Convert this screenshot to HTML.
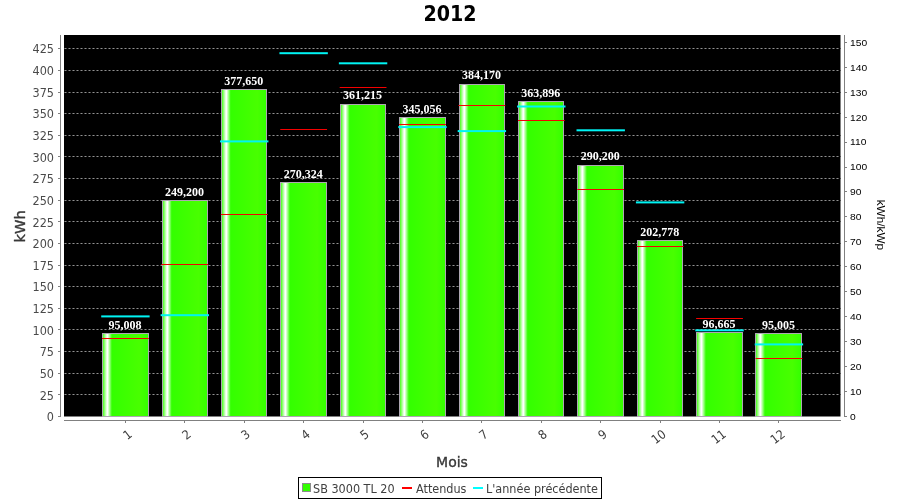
<!DOCTYPE html>
<html lang="fr">
<head>
<meta charset="utf-8">
<title>2012</title>
<style>
html,body{margin:0;padding:0;background:#fff;}
body{width:900px;height:500px;position:relative;overflow:hidden;font-family:"Liberation Sans",sans-serif;}
#chart{position:absolute;left:0;top:0;width:900px;height:500px;}
.t{position:absolute;white-space:nowrap;line-height:1;}
.title{left:350px;width:200px;text-align:center;top:1.5px;transform:scale(0.94,1.07);font:bold 20.3px "DejaVu Sans","Liberation Sans",sans-serif;color:#000;}
.yl{font:12.5px/1 "DejaVu Sans Condensed","DejaVu Sans","Liberation Sans",sans-serif;color:#4a4a4a;text-align:right;width:50px;left:4px;}
.yr{font-size:9.6px;color:#000;left:850.3px;transform-origin:0 50%;transform:scaleX(1.07);}
.xl{font:12.5px/1 "DejaVu Sans Condensed","DejaVu Sans","Liberation Sans",sans-serif;color:#404040;transform-origin:100% 0;transform:rotate(-37deg);text-align:right;width:40px;}
.vl{font:bold 12px "Liberation Serif",serif;color:#fff;width:80px;text-align:center;}
.ax{font:14px/1 "DejaVu Sans","Liberation Sans",sans-serif;color:#383838;-webkit-text-stroke:0.35px #383838;}
.lg{font:12.5px/1 "DejaVu Sans Condensed","DejaVu Sans","Liberation Sans",sans-serif;color:#404040;top:483px;}
</style>
</head>
<body>

<svg id="chart" width="900" height="500" viewBox="0 0 900 500">
<defs><linearGradient id="g" x1="0" y1="0" x2="1" y2="0"><stop offset="0" stop-color="#33ff00"/><stop offset="0.1" stop-color="#ffffff"/><stop offset="0.112" stop-color="#ffffff"/><stop offset="0.205" stop-color="#33ff00"/><stop offset="0.8" stop-color="#48ff00"/><stop offset="1" stop-color="#33ff00"/></linearGradient></defs>
<rect x="64" y="35" width="776.5" height="381.5" fill="#000"/>
<g stroke-width="1" shape-rendering="crispEdges">
<line x1="64" y1="394.5" x2="840.5" y2="394.5" stroke="#4c4c4c" stroke-dasharray="3 1"/>
<line x1="65" y1="394.5" x2="840.5" y2="394.5" stroke="#929292" stroke-dasharray="1 3"/>
<line x1="64" y1="373.5" x2="840.5" y2="373.5" stroke="#4c4c4c" stroke-dasharray="3 1"/>
<line x1="65" y1="373.5" x2="840.5" y2="373.5" stroke="#929292" stroke-dasharray="1 3"/>
<line x1="64" y1="351.5" x2="840.5" y2="351.5" stroke="#4c4c4c" stroke-dasharray="3 1"/>
<line x1="65" y1="351.5" x2="840.5" y2="351.5" stroke="#929292" stroke-dasharray="1 3"/>
<line x1="64" y1="329.5" x2="840.5" y2="329.5" stroke="#4c4c4c" stroke-dasharray="3 1"/>
<line x1="65" y1="329.5" x2="840.5" y2="329.5" stroke="#929292" stroke-dasharray="1 3"/>
<line x1="64" y1="308.5" x2="840.5" y2="308.5" stroke="#4c4c4c" stroke-dasharray="3 1"/>
<line x1="65" y1="308.5" x2="840.5" y2="308.5" stroke="#929292" stroke-dasharray="1 3"/>
<line x1="64" y1="286.5" x2="840.5" y2="286.5" stroke="#4c4c4c" stroke-dasharray="3 1"/>
<line x1="65" y1="286.5" x2="840.5" y2="286.5" stroke="#929292" stroke-dasharray="1 3"/>
<line x1="64" y1="265.5" x2="840.5" y2="265.5" stroke="#4c4c4c" stroke-dasharray="3 1"/>
<line x1="65" y1="265.5" x2="840.5" y2="265.5" stroke="#929292" stroke-dasharray="1 3"/>
<line x1="64" y1="243.5" x2="840.5" y2="243.5" stroke="#4c4c4c" stroke-dasharray="3 1"/>
<line x1="65" y1="243.5" x2="840.5" y2="243.5" stroke="#929292" stroke-dasharray="1 3"/>
<line x1="64" y1="221.5" x2="840.5" y2="221.5" stroke="#4c4c4c" stroke-dasharray="3 1"/>
<line x1="65" y1="221.5" x2="840.5" y2="221.5" stroke="#929292" stroke-dasharray="1 3"/>
<line x1="64" y1="200.5" x2="840.5" y2="200.5" stroke="#4c4c4c" stroke-dasharray="3 1"/>
<line x1="65" y1="200.5" x2="840.5" y2="200.5" stroke="#929292" stroke-dasharray="1 3"/>
<line x1="64" y1="178.5" x2="840.5" y2="178.5" stroke="#4c4c4c" stroke-dasharray="3 1"/>
<line x1="65" y1="178.5" x2="840.5" y2="178.5" stroke="#929292" stroke-dasharray="1 3"/>
<line x1="64" y1="156.5" x2="840.5" y2="156.5" stroke="#4c4c4c" stroke-dasharray="3 1"/>
<line x1="65" y1="156.5" x2="840.5" y2="156.5" stroke="#929292" stroke-dasharray="1 3"/>
<line x1="64" y1="135.5" x2="840.5" y2="135.5" stroke="#4c4c4c" stroke-dasharray="3 1"/>
<line x1="65" y1="135.5" x2="840.5" y2="135.5" stroke="#929292" stroke-dasharray="1 3"/>
<line x1="64" y1="113.5" x2="840.5" y2="113.5" stroke="#4c4c4c" stroke-dasharray="3 1"/>
<line x1="65" y1="113.5" x2="840.5" y2="113.5" stroke="#929292" stroke-dasharray="1 3"/>
<line x1="64" y1="92.5" x2="840.5" y2="92.5" stroke="#4c4c4c" stroke-dasharray="3 1"/>
<line x1="65" y1="92.5" x2="840.5" y2="92.5" stroke="#929292" stroke-dasharray="1 3"/>
<line x1="64" y1="70.5" x2="840.5" y2="70.5" stroke="#4c4c4c" stroke-dasharray="3 1"/>
<line x1="65" y1="70.5" x2="840.5" y2="70.5" stroke="#929292" stroke-dasharray="1 3"/>
<line x1="64" y1="48.5" x2="840.5" y2="48.5" stroke="#4c4c4c" stroke-dasharray="3 1"/>
<line x1="65" y1="48.5" x2="840.5" y2="48.5" stroke="#929292" stroke-dasharray="1 3"/>
</g>
<g stroke="#aea6b2" stroke-width="1">
<rect x="102.5" y="333.5" width="46" height="83.0" fill="url(#g)"/>
<rect x="162.5" y="200.5" width="45" height="216.0" fill="url(#g)"/>
<rect x="221.5" y="89.5" width="45" height="327.0" fill="url(#g)"/>
<rect x="280.5" y="182.5" width="46" height="234.0" fill="url(#g)"/>
<rect x="340.5" y="104.5" width="45" height="312.0" fill="url(#g)"/>
<rect x="399.5" y="117.5" width="46" height="299.0" fill="url(#g)"/>
<rect x="459.5" y="84.5" width="45" height="332.0" fill="url(#g)"/>
<rect x="518.5" y="101.5" width="45" height="315.0" fill="url(#g)"/>
<rect x="577.5" y="165.5" width="46" height="251.0" fill="url(#g)"/>
<rect x="637.5" y="240.5" width="45" height="176.0" fill="url(#g)"/>
<rect x="696.5" y="332.5" width="46" height="84.0" fill="url(#g)"/>
<rect x="755.5" y="333.5" width="46" height="83.0" fill="url(#g)"/>
</g>
<g>
<rect x="102.02" y="338" width="46.80" height="1" fill="#f40000"/>
<rect x="101.22" y="315.4" width="48.40" height="2" fill="#00f4f4"/>
<rect x="161.43" y="264" width="46.80" height="1" fill="#f40000"/>
<rect x="160.63" y="314.2" width="48.40" height="2" fill="#00f4f4"/>
<rect x="220.84" y="214" width="46.80" height="1" fill="#f40000"/>
<rect x="220.04" y="140.4" width="48.40" height="2" fill="#00f4f4"/>
<rect x="280.25" y="129" width="46.80" height="1" fill="#f40000"/>
<rect x="279.45" y="52.2" width="48.40" height="2" fill="#00f4f4"/>
<rect x="339.67" y="87" width="46.80" height="1" fill="#f40000"/>
<rect x="338.87" y="62.3" width="48.40" height="2" fill="#00f4f4"/>
<rect x="399.07" y="124" width="46.80" height="1" fill="#f40000"/>
<rect x="398.27" y="126.1" width="48.40" height="2" fill="#00f4f4"/>
<rect x="458.48" y="105" width="46.80" height="1" fill="#f40000"/>
<rect x="457.68" y="130.1" width="48.40" height="2" fill="#00f4f4"/>
<rect x="517.90" y="120" width="46.80" height="1" fill="#f40000"/>
<rect x="517.10" y="105.5" width="48.40" height="2" fill="#00f4f4"/>
<rect x="577.31" y="189" width="46.80" height="1" fill="#f40000"/>
<rect x="576.51" y="129.3" width="48.40" height="2" fill="#00f4f4"/>
<rect x="636.72" y="246" width="46.80" height="1" fill="#f40000"/>
<rect x="635.92" y="201.4" width="48.40" height="2" fill="#00f4f4"/>
<rect x="696.12" y="318" width="46.80" height="1" fill="#f40000"/>
<rect x="695.33" y="329.3" width="48.40" height="2" fill="#00f4f4"/>
<rect x="755.54" y="358" width="46.80" height="1" fill="#f40000"/>
<rect x="754.74" y="343.4" width="48.40" height="2" fill="#00f4f4"/>
</g>
<g fill="#808080" shape-rendering="crispEdges">
<rect x="60" y="35" width="1" height="382"/>
<rect x="844" y="35" width="1" height="382"/>
<rect x="64" y="420" width="777" height="1"/>
<rect x="58" y="416" width="2" height="1"/>
<rect x="58" y="394" width="2" height="1"/>
<rect x="58" y="373" width="2" height="1"/>
<rect x="58" y="351" width="2" height="1"/>
<rect x="58" y="329" width="2" height="1"/>
<rect x="58" y="308" width="2" height="1"/>
<rect x="58" y="286" width="2" height="1"/>
<rect x="58" y="265" width="2" height="1"/>
<rect x="58" y="243" width="2" height="1"/>
<rect x="58" y="221" width="2" height="1"/>
<rect x="58" y="200" width="2" height="1"/>
<rect x="58" y="178" width="2" height="1"/>
<rect x="58" y="156" width="2" height="1"/>
<rect x="58" y="135" width="2" height="1"/>
<rect x="58" y="113" width="2" height="1"/>
<rect x="58" y="92" width="2" height="1"/>
<rect x="58" y="70" width="2" height="1"/>
<rect x="58" y="48" width="2" height="1"/>
<rect x="845" y="416" width="2" height="1"/>
<rect x="845" y="391" width="2" height="1"/>
<rect x="845" y="366" width="2" height="1"/>
<rect x="845" y="341" width="2" height="1"/>
<rect x="845" y="316" width="2" height="1"/>
<rect x="845" y="291" width="2" height="1"/>
<rect x="845" y="266" width="2" height="1"/>
<rect x="845" y="241" width="2" height="1"/>
<rect x="845" y="216" width="2" height="1"/>
<rect x="845" y="191" width="2" height="1"/>
<rect x="845" y="167" width="2" height="1"/>
<rect x="845" y="142" width="2" height="1"/>
<rect x="845" y="117" width="2" height="1"/>
<rect x="845" y="92" width="2" height="1"/>
<rect x="845" y="67" width="2" height="1"/>
<rect x="845" y="42" width="2" height="1"/>
<rect x="125" y="421" width="1" height="2"/>
<rect x="184" y="421" width="1" height="2"/>
<rect x="244" y="421" width="1" height="2"/>
<rect x="303" y="421" width="1" height="2"/>
<rect x="363" y="421" width="1" height="2"/>
<rect x="422" y="421" width="1" height="2"/>
<rect x="481" y="421" width="1" height="2"/>
<rect x="541" y="421" width="1" height="2"/>
<rect x="600" y="421" width="1" height="2"/>
<rect x="660" y="421" width="1" height="2"/>
<rect x="719" y="421" width="1" height="2"/>
<rect x="778" y="421" width="1" height="2"/>
</g>
<rect x="298.5" y="477.5" width="303" height="21" fill="#fff" stroke="#000" stroke-width="1" shape-rendering="crispEdges"/>
<rect x="302.5" y="483.5" width="8" height="8" fill="#33ff00" stroke="#8c8c8c" stroke-width="1" shape-rendering="crispEdges"/>
<rect x="402" y="487" width="10" height="2" fill="#ff0000" shape-rendering="crispEdges"/>
<rect x="473" y="487" width="10" height="2" fill="#00ffff" shape-rendering="crispEdges"/>
</svg>
<div class="t title">2012</div>
<div class="t yl" style="top:411.3px">0</div>
<div class="t yl" style="top:389.7px">25</div>
<div class="t yl" style="top:368.0px">50</div>
<div class="t yl" style="top:346.4px">75</div>
<div class="t yl" style="top:324.7px">100</div>
<div class="t yl" style="top:303.1px">125</div>
<div class="t yl" style="top:281.4px">150</div>
<div class="t yl" style="top:259.8px">175</div>
<div class="t yl" style="top:238.1px">200</div>
<div class="t yl" style="top:216.5px">225</div>
<div class="t yl" style="top:194.8px">250</div>
<div class="t yl" style="top:173.2px">275</div>
<div class="t yl" style="top:151.5px">300</div>
<div class="t yl" style="top:129.9px">325</div>
<div class="t yl" style="top:108.2px">350</div>
<div class="t yl" style="top:86.6px">375</div>
<div class="t yl" style="top:64.9px">400</div>
<div class="t yl" style="top:43.3px">425</div>
<div class="t yr" style="top:412px">0</div>
<div class="t yr" style="top:387px">10</div>
<div class="t yr" style="top:362px">20</div>
<div class="t yr" style="top:337px">30</div>
<div class="t yr" style="top:312px">40</div>
<div class="t yr" style="top:287px">50</div>
<div class="t yr" style="top:262px">60</div>
<div class="t yr" style="top:237px">70</div>
<div class="t yr" style="top:212px">80</div>
<div class="t yr" style="top:187px">90</div>
<div class="t yr" style="top:162px">100</div>
<div class="t yr" style="top:137px">110</div>
<div class="t yr" style="top:113px">120</div>
<div class="t yr" style="top:88px">130</div>
<div class="t yr" style="top:63px">140</div>
<div class="t yr" style="top:38px">150</div>
<div class="t xl" style="left:86.5px;top:427.6px">1</div>
<div class="t xl" style="left:145.9px;top:427.6px">2</div>
<div class="t xl" style="left:205.3px;top:427.6px">3</div>
<div class="t xl" style="left:264.7px;top:427.6px">4</div>
<div class="t xl" style="left:324.1px;top:427.6px">5</div>
<div class="t xl" style="left:383.5px;top:427.6px">6</div>
<div class="t xl" style="left:442.9px;top:427.6px">7</div>
<div class="t xl" style="left:502.3px;top:427.6px">8</div>
<div class="t xl" style="left:561.8px;top:427.6px">9</div>
<div class="t xl" style="left:621.2px;top:427.6px">10</div>
<div class="t xl" style="left:680.6px;top:427.6px">11</div>
<div class="t xl" style="left:740.0px;top:427.6px">12</div>
<div class="t vl" style="left:85.0px;top:318.2px">95,008</div>
<div class="t vl" style="left:144.4px;top:184.7px">249,200</div>
<div class="t vl" style="left:203.8px;top:73.5px">377,650</div>
<div class="t vl" style="left:263.2px;top:167.4px">270,324</div>
<div class="t vl" style="left:322.6px;top:87.7px">361,215</div>
<div class="t vl" style="left:382.0px;top:101.7px">345,056</div>
<div class="t vl" style="left:441.4px;top:67.9px">384,170</div>
<div class="t vl" style="left:500.8px;top:86.4px">363,896</div>
<div class="t vl" style="left:560.3px;top:149.2px">290,200</div>
<div class="t vl" style="left:619.7px;top:224.9px">202,778</div>
<div class="t vl" style="left:679.1px;top:316.8px">96,665</div>
<div class="t vl" style="left:738.5px;top:318.2px">95,005</div>
<div class="t ax" style="left:402px;width:100px;text-align:center;top:455px">Mois</div>
<div class="t ax" style="left:-30px;top:219px;width:100px;text-align:center;font-size:14.6px;transform:rotate(-90deg)">kWh</div>
<div class="t" style="font-size:11.8px;color:#000;left:830px;top:219px;width:100px;text-align:center;transform:rotate(90deg)">kWh/kWp</div>
<div class="t lg" style="left:313px">SB 3000 TL 20</div>
<div class="t lg" style="left:416px">Attendus</div>
<div class="t lg" style="left:486px">L'année précédente</div>
</body>
</html>
